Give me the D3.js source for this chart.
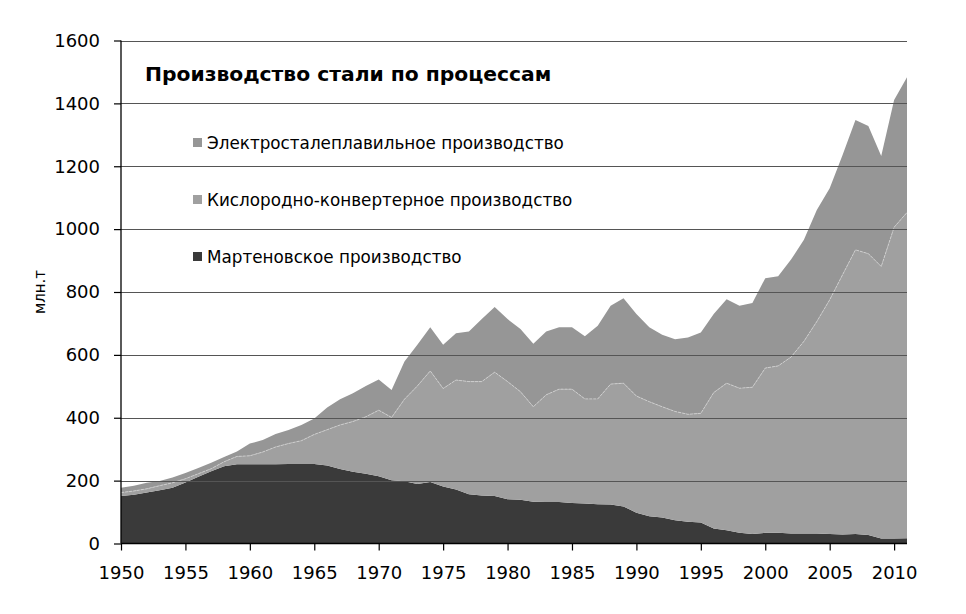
<!DOCTYPE html>
<html>
<head>
<meta charset="utf-8">
<script src="https://cdn.jsdelivr.net/npm/d3@7"></script>
<style>
  body { margin: 0; background: #fff; }
  svg text { font-family: "DejaVu Sans", Verdana, sans-serif; fill: #000; }
</style>
</head>
<body>
<svg width="966" height="614"></svg>
<script>
// years 1950..2011
var years = d3.range(1950, 2012);

// мартеновское (open hearth), млн.т
var openHearth = [151, 155, 162, 169, 177, 194, 212, 230, 246, 252,
    252, 252, 252, 253, 253, 253, 248, 237, 228, 222,
    214, 201, 198, 189, 196, 181, 172, 157, 153, 151,
    141, 139, 133, 132, 132, 129, 127, 125, 124, 118,
    98, 87, 83, 74, 69, 67, 48, 42, 34, 30,
    34, 34, 32, 32, 32, 30, 29, 30, 27, 16,
    16, 17];

// кислородно-конвертерное (BOF)
var oxygen = [11, 12, 12, 15, 16, 12, 10, 8, 14, 25,
    27, 39, 55, 65, 74, 94, 114, 140, 160, 181,
    210, 200, 261, 312, 353, 312, 348, 358, 362, 394,
    374, 344, 302, 341, 359, 362, 333, 335, 383, 392,
    371, 364, 352, 346, 342, 347, 432, 468, 460, 467,
    524, 531, 561, 611, 674, 745, 826, 904, 895, 865,
    990, 1036];

// электросталеплавильное (EAF)
var electric = [15, 17, 19, 15, 17, 18, 18, 19, 15, 16,
    39, 38, 41, 43, 50, 51, 71, 82, 90, 98,
    98, 87, 120, 131, 139, 139, 149, 159, 199, 207,
    199, 199, 200, 201, 197, 197, 199, 233, 249, 270,
    261, 237, 229, 230, 244, 257, 250, 267, 262, 268,
    286, 285, 310, 323, 355, 355, 381, 413, 406, 352,
    405, 430];

var seriesNames = ['Мартеновское производство',
                   'Кислородно-конвертерное производство',
                   'Электросталеплавильное производство'];
var yTicks = [0, 200, 400, 600, 800, 1000, 1200, 1400, 1600];
var xTicks = d3.range(1950, 2011, 5);

var colors = ['#3a3a3a', '#a0a0a0', '#969696'];

var table = years.map(function(yr, i) {
    return { year: yr, oh: openHearth[i], bof: oxygen[i], eaf: electric[i] };
});

var svg = d3.select('svg');

var x = d3.scaleLinear().domain([1950, 2011]).range([121, 907]);
var y = d3.scaleLinear().domain([0, 1600]).range([543.5, 40.5]);

var stack = d3.stack().keys(['oh', 'bof', 'eaf']);
var layers = stack(table);

var area = d3.area()
    .x(function(d) { return x(d.data.year); })
    .y0(function(d) { return y(d[0]); })
    .y1(function(d) { return y(d[1]); });

svg.append('g')
    .selectAll('path')
    .data(layers)
    .enter().append('path')
    .attr('d', area)
    .attr('fill', function(d, i) { return colors[i]; });

// light border on top of the BOF area
var topLine = d3.line()
    .x(function(d) { return x(d.data.year); })
    .y(function(d) { return y(d[1]); });

svg.append('path')
    .attr('d', topLine(layers[1]))
    .attr('fill', 'none')
    .attr('stroke', '#d4d4d4')
    .attr('stroke-width', 0.8)
    .attr('stroke-dasharray', '3,1');

// gridlines drawn over the areas
svg.append('g')
    .selectAll('line')
    .data(yTicks.slice(1))
    .enter().append('line')
    .attr('x1', x(1950))
    .attr('x2', x(2011))
    .attr('y1', function(d) { return Math.round(y(d)) + 0.5; })
    .attr('y2', function(d) { return Math.round(y(d)) + 0.5; })
    .attr('stroke', '#555')
    .attr('stroke-width', 1);

// axes
var yAxis = svg.append('g')
    .attr('transform', 'translate(' + (x(1950)) + ',0)')
    .call(d3.axisLeft(y).tickValues(yTicks).tickSize(7).tickPadding(14)
          .tickFormat(d3.format('d')));
var xAxis = svg.append('g')
    .attr('transform', 'translate(0,' + y(0) + ')')
    .call(d3.axisBottom(x).tickValues(xTicks).tickSize(7).tickPadding(16)
          .tickFormat(d3.format('d')));

[yAxis, xAxis].forEach(function(a) {
    a.select('.domain').attr('stroke', '#000').attr('stroke-width', 1.3);
    a.selectAll('.tick line').attr('stroke', '#000').attr('stroke-width', 1.2);
    a.selectAll('.tick text')
        .style('font-size', '18px')
        .style('font-family', '"DejaVu Sans", Verdana, sans-serif')
        .attr('fill', '#000');
});
xAxis.select('.domain').attr('d', 'M' + x(1950) + ',0H' + x(2011));
yAxis.select('.domain').attr('d', 'M0,' + y(0) + 'V' + y(1600));

// y axis title
svg.append('text')
    .attr('transform', 'translate(45,' + y(800) + ') rotate(-90)')
    .attr('text-anchor', 'middle')
    .style('font-size', '15px')
    .text('млн.т');

// title
svg.append('text')
    .attr('x', 145)
    .attr('y', 81)
    .style('font-size', '20.3px')
    .style('font-weight', 'bold')
    .text('Производство стали по процессам');

// legend (top to bottom: EAF, BOF, OH)
var legendY = [143, 200, 257];
var legend = svg.append('g')
    .selectAll('g')
    .data([2, 1, 0])
    .enter().append('g')
    .attr('transform', function(d, i) { return 'translate(193,' + legendY[i] + ')'; });

legend.append('rect')
    .attr('x', 0)
    .attr('y', -5)
    .attr('width', 9)
    .attr('height', 9)
    .attr('fill', function(d) { return colors[d]; });

legend.append('text')
    .attr('x', 14)
    .attr('y', 6)
    .style('font-size', '16.8px')
    .text(function(d) { return seriesNames[d]; });
</script>
</body>
</html>
